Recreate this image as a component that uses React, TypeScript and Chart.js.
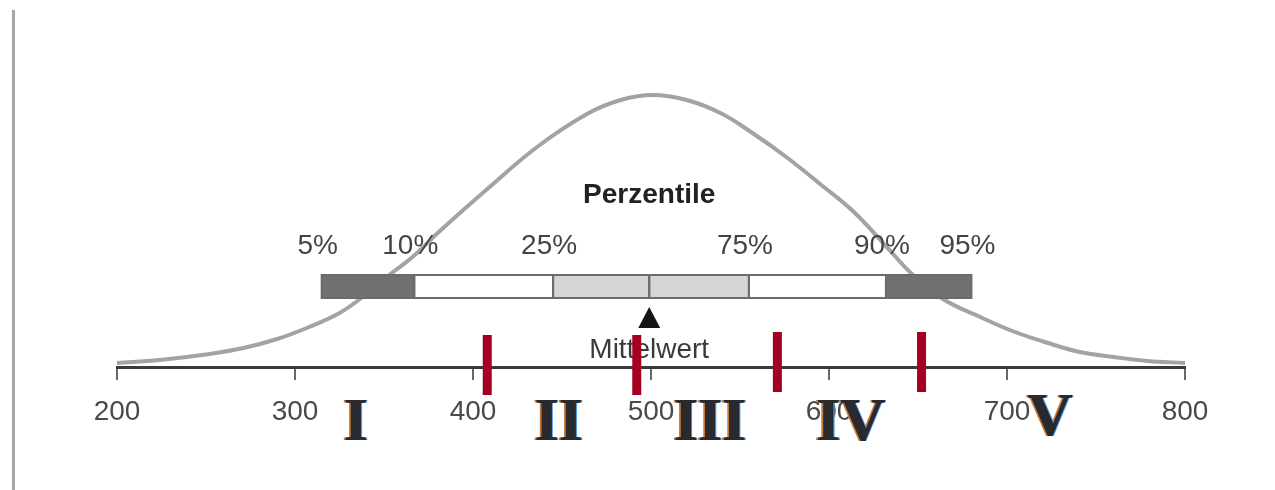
import React, { useEffect, useRef } from 'react';
import { Chart, registerables } from 'chart.js';

Chart.register(...registerables);

// Bell curve (x: score, y: height above the axis)
const curveX = [200, 224, 252, 271, 290, 308, 324, 335, 353, 366, 382, 408, 436, 464, 483, 501, 520, 539, 557, 576, 595, 614, 636, 646, 664, 685, 703, 723, 741, 760, 779, 800];
const curveY = [4, 7, 13, 19, 28, 40, 53, 66, 92, 110, 137, 178, 220, 253, 267, 272, 267, 254, 234, 210, 183, 155, 113, 94, 68, 50, 36, 24, 15, 10, 6, 4];

// Percentile bar
const pctLabels = ['5%', '10%', '25%', '75%', '90%', '95%'];
const pctValues = [315, 367, 445, 555, 632, 680];
const meanValue = 499;
const segmentBounds = [315, 367, 445, 499, 555, 632, 680];
const segmentKinds = ['dark', 'white', 'light', 'light', 'white', 'dark'];
const boxRange = [69, 92];

// Red level markers
const markerValues = [408, 492, 571, 652];
const markerTop = [32, 32, 35, 35];
const markerBottom = [-28, -28, -25, -25];

// Level numerals
const romanLabels = ['I', 'II', 'III', 'IV', 'V'];
const romanPos = [334, 448, 533, 612, 724];
const romanBase = [-73, -73, -73, -73, -68];

// Axis ticks
const tickValues = [200, 300, 400, 500, 600, 700, 800];

const SANS = '"Liberation Sans", Arial, sans-serif';
const SERIF = '"Liberation Serif", "Times New Roman", serif';

const segColors: Record<string, string> = { dark: '#717171', white: '#ffffff', light: '#d5d5d5' };

const overlayPlugin = {
  id: 'overlay',
  beforeDraw(chart: any) {
    const ctx = chart.ctx;
    ctx.save();
    ctx.fillStyle = '#a6a6a6';
    ctx.fillRect(12, 10, 3, 480);
    ctx.restore();
  },
  afterDatasetsDraw(chart: any) {
    const ctx: CanvasRenderingContext2D = chart.ctx;
    const xs = chart.scales.x;
    const ys = chart.scales.y;
    const px = (v: number) => xs.getPixelForValue(v);
    const py = (v: number) => ys.getPixelForValue(v);
    ctx.save();

    // percentile box
    const yTop = py(boxRange[1]);
    const yBot = py(boxRange[0]);
    for (let i = 0; i < segmentKinds.length; i++) {
      const x0 = px(segmentBounds[i]);
      const x1 = px(segmentBounds[i + 1]);
      ctx.fillStyle = segColors[segmentKinds[i]];
      ctx.fillRect(x0, yTop, x1 - x0, yBot - yTop);
    }
    ctx.strokeStyle = '#6b6b6b';
    ctx.lineWidth = 2;
    for (let i = 0; i < segmentKinds.length; i++) {
      const x0 = px(segmentBounds[i]);
      const x1 = px(segmentBounds[i + 1]);
      ctx.strokeRect(x0, yTop, x1 - x0, yBot - yTop);
    }

    // mean triangle
    const xm = px(meanValue);
    ctx.fillStyle = '#151515';
    ctx.beginPath();
    ctx.moveTo(xm, py(60));
    ctx.lineTo(xm + 11, py(39));
    ctx.lineTo(xm - 11, py(39));
    ctx.closePath();
    ctx.fill();

    // texts
    ctx.textAlign = 'center';
    ctx.textBaseline = 'alphabetic';
    ctx.fillStyle = '#222';
    ctx.font = `bold 28px ${SANS}`;
    ctx.fillText('Perzentile', px(meanValue), py(164));

    ctx.font = `28px ${SANS}`;
    ctx.fillStyle = '#444';
    pctLabels.forEach((t, i) => {
      ctx.fillText(t, px(pctValues[i]) - 4, py(113));
    });

    ctx.fillStyle = '#3a3a3a';
    ctx.fillText('Mittelwert', px(meanValue), py(9));

    // red markers
    ctx.fillStyle = '#a50021';
    markerValues.forEach((v, i) => {
      const x = px(v);
      const t = py(markerTop[i]);
      const b = py(markerBottom[i]);
      ctx.fillRect(x - 4.5, t, 9, b - t);
    });

    // roman numerals
    ctx.font = `bold 62px ${SERIF}`;
    romanLabels.forEach((t, i) => {
      const x = px(romanPos[i]);
      const y = py(romanBase[i]);
      ctx.fillStyle = '#c77a34';
      ctx.fillText(t, x - 1.8, y);
      ctx.fillStyle = '#4a9be0';
      ctx.fillText(t, x + 1.8, y);
      ctx.fillStyle = '#1f2238';
      ctx.fillText(t, x + 0.6, y);
      ctx.fillStyle = '#2a2a2e';
      ctx.fillText(t, x, y);
    });

    ctx.restore();
  },
};

export default function App() {
  const ref = useRef<HTMLCanvasElement | null>(null);
  useEffect(() => {
    if (!ref.current) return;
    const chart = new Chart(ref.current, {
      type: 'line',
      data: {
        datasets: [
          {
            data: curveX.map((x, i) => ({ x, y: curveY[i] })),
            borderColor: '#a3a3a3',
            borderWidth: 4,
            pointRadius: 0,
            tension: 0.4,
            fill: false,
            clip: false as any,
          },
        ],
      },
      options: {
        animation: false,
        responsive: false,
        layout: { padding: { left: 117, right: 90, top: 67, bottom: 0 } },
        plugins: { legend: { display: false }, tooltip: { enabled: false } },
        scales: {
          x: {
            type: 'linear',
            min: 200,
            max: 800,
            afterBuildTicks: (s: any) => {
              s.ticks = tickValues.map((v) => ({ value: v }));
            },
            afterFit: (s: any) => {
              s.height = 123;
            },
            border: { display: true, color: '#3a3a3a', width: 3 },
            grid: { display: true, drawOnChartArea: false, drawTicks: true, tickLength: 13, color: '#6a6a6a', lineWidth: 2 },
            ticks: { font: { family: SANS, size: 28 }, color: '#4a4a4a', padding: 15 },
          },
          y: { display: false, min: 0, max: 300 },
        },
      },
      plugins: [overlayPlugin],
    } as any);
    return () => chart.destroy();
  }, []);
  return (
    <div style={{ position: 'fixed', left: 0, top: 0, width: 1275, height: 490, background: '#fff' }}>
      <canvas ref={ref} width={1275} height={490} style={{ display: 'block' }} />
    </div>
  );
}
